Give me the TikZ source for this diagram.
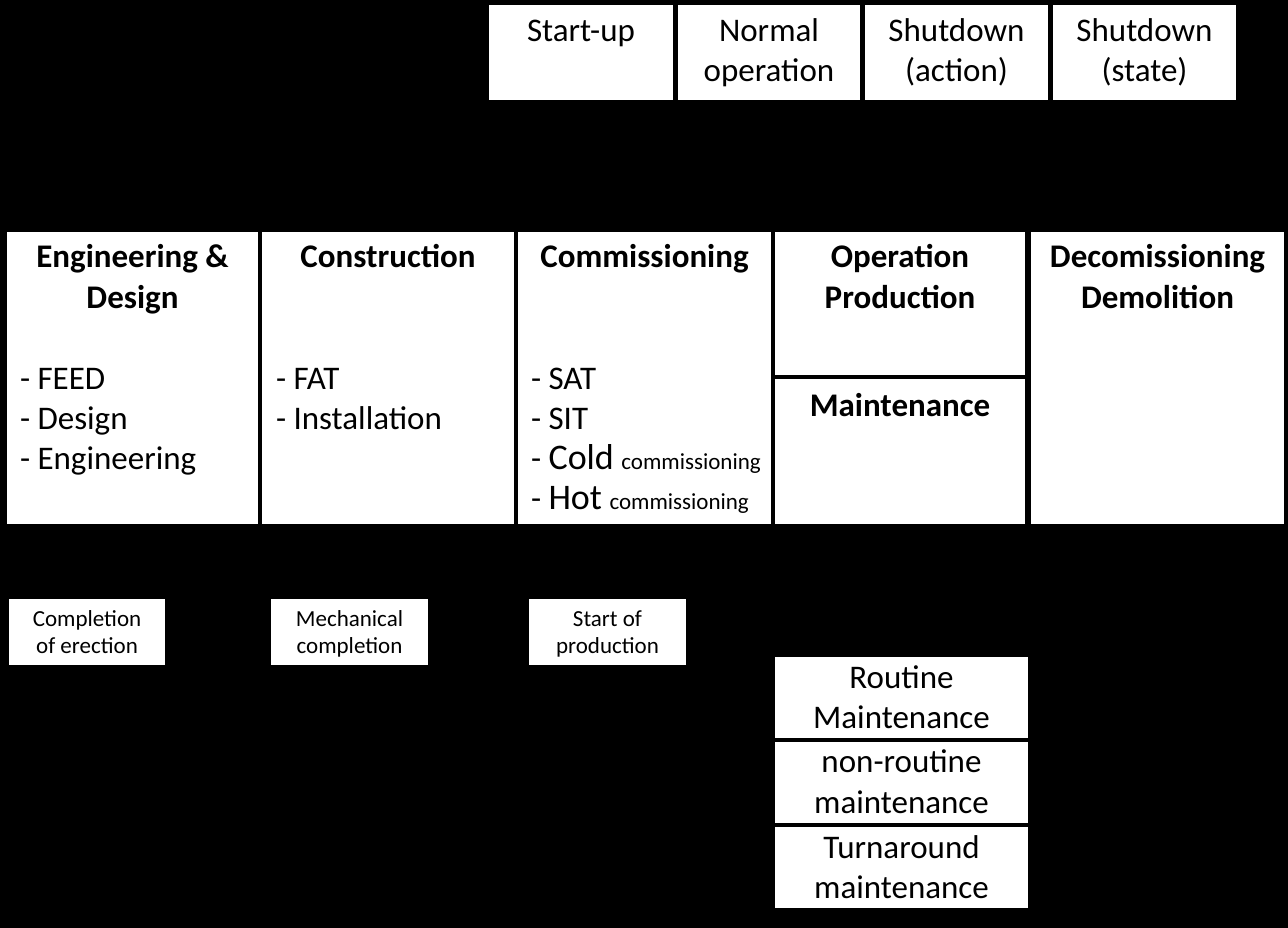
\documentclass[tikz,border=0pt]{standalone}
\usepackage{fontspec}
\setmainfont{Carlito}
\tikzset{
  box/.style={rectangle, fill=white, draw=none, inner sep=0pt, outer sep=0pt},
  bigtxt/.style={font=\fontsize{33}{40}\selectfont, inner sep=0pt, outer sep=0pt, anchor=base, text=black},
  boldtxt/.style={font=\fontsize{33}{40}\selectfont\bfseries, inner sep=0pt, outer sep=0pt, anchor=base, text=black},
  listtxt/.style={font=\fontsize{33}{40}\selectfont, inner sep=0pt, outer sep=0pt, anchor=base west, text=black},
  smalltxt/.style={font=\fontsize{23}{27}\selectfont, inner sep=0pt, outer sep=0pt, anchor=base, text=black}
}
\newcommand{\smallword}[1]{{\fontsize{23}{27}\selectfont #1}}
\newcommand{\largeword}[1]{{\fontsize{36}{40}\selectfont #1}}
\begin{document}
\begin{tikzpicture}[x=1pt,y=-1pt]
\fill[black] (0,0) rectangle (1288,928);
\useasboundingbox (0,0) rectangle (1288,928);

% top row: states
\node[box, minimum width=184pt, minimum height=95pt] (startup) at (581,52.5) {};
\node[box, minimum width=182pt, minimum height=95pt] (normal) at (769,52.5) {};
\node[box, minimum width=183pt, minimum height=95pt] (shutact) at (956.5,52.5) {};
\node[box, minimum width=183pt, minimum height=95pt] (shutstate) at (1144.5,52.5) {};
\node[bigtxt] (t1a) at (581,42) {Start-up};
\node[bigtxt] (t2a) at (769,42) {Normal};
\node[bigtxt] (t2b) at (769,82) {operation};
\node[bigtxt] (t3a) at (956.5,42) {Shutdown};
\node[bigtxt] (t3b) at (956.5,82) {(action)};
\node[bigtxt] (t4a) at (1144.5,42) {Shutdown};
\node[bigtxt] (t4b) at (1144.5,82) {(state)};

% main phases
\node[box, minimum width=251pt, minimum height=292pt] (eng) at (132.5,378) {};
\node[box, minimum width=252pt, minimum height=292pt] (constr) at (388,378) {};
\node[box, minimum width=253pt, minimum height=292pt] (comm) at (644.5,378) {};
\node[box, minimum width=250pt, minimum height=143pt] (oper) at (900,303.5) {};
\node[box, minimum width=250pt, minimum height=145pt] (maint) at (900,451.5) {};
\node[box, minimum width=253pt, minimum height=292pt] (decom) at (1157.5,378) {};

\node[boldtxt] (e1) at (132.5,268) {Engineering \&};
\node[boldtxt] (e2) at (132.5,308) {Design};
\node[listtxt] (e3) at (20,389) {- FEED};
\node[listtxt] (e4) at (20,429) {- Design};
\node[listtxt] (e5) at (20,469) {- Engineering};

\node[boldtxt] (c1) at (388,268) {Construction};
\node[listtxt] (c2) at (276,389) {- FAT};
\node[listtxt] (c3) at (276,429) {- Installation};

\node[boldtxt] (m1) at (644.5,268) {Commissioning};
\node[listtxt] (m2) at (531,389) {- SAT};
\node[listtxt] (m3) at (531,429) {- SIT};
\node[listtxt] (m4) at (531,469) {- \largeword{Cold} \smallword{commissioning}};
\node[listtxt] (m5) at (531,509) {- \largeword{Hot} \smallword{commissioning}};

\node[boldtxt] (o1) at (900,268) {Operation};
\node[boldtxt] (o2) at (900,308) {Production};
\node[boldtxt] (o3) at (900,416) {Maintenance};

\node[boldtxt] (d1) at (1157.5,268) {Decomissioning};
\node[boldtxt] (d2) at (1157.5,308) {Demolition};

% milestones
\node[box, minimum width=156pt, minimum height=66pt] (ms1) at (87,632) {};
\node[box, minimum width=157pt, minimum height=66pt] (ms2) at (349.5,632) {};
\node[box, minimum width=157pt, minimum height=66pt] (ms3) at (607.5,632) {};
\node[smalltxt] (s1a) at (87,626) {Completion};
\node[smalltxt] (s1b) at (87,653) {of erection};
\node[smalltxt] (s2a) at (349.5,626) {Mechanical};
\node[smalltxt] (s2b) at (349.5,653) {completion};
\node[smalltxt] (s3a) at (607.5,626) {Start of};
\node[smalltxt] (s3b) at (607.5,653) {production};

% maintenance types
\node[box, minimum width=253pt, minimum height=81pt] (rm) at (901.5,697.5) {};
\node[box, minimum width=253pt, minimum height=81pt] (nrm) at (901.5,782.5) {};
\node[box, minimum width=253pt, minimum height=81pt] (tam) at (901.5,867.5) {};
\node[bigtxt] (r1) at (901.5,688) {Routine};
\node[bigtxt] (r2) at (901.5,728) {Maintenance};
\node[bigtxt] (r3) at (901.5,772) {non-routine};
\node[bigtxt] (r4) at (901.5,813) {maintenance};
\node[bigtxt] (r5) at (901.5,858) {Turnaround};
\node[bigtxt] (r6) at (901.5,898) {maintenance};
\end{tikzpicture}
\end{document}
